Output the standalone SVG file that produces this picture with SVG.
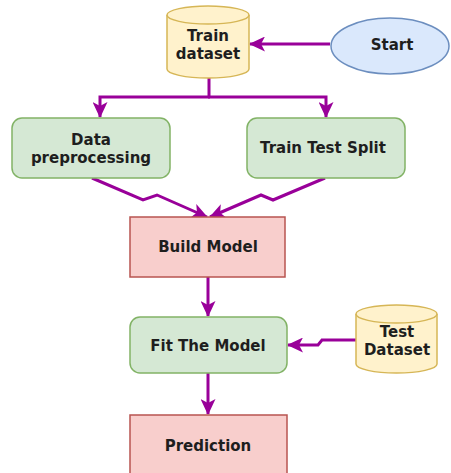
<svg xmlns="http://www.w3.org/2000/svg" width="451" height="473" viewBox="0 0 451 473">
  <style>
    .lbl { font-family: "DejaVu Sans", Verdana, sans-serif; font-weight: bold; font-size: 15px; fill: #1e1e1e; text-anchor: middle; dominant-baseline: central; }
    .green { fill: #d5e8d4; stroke: #82b366; stroke-width: 1.5; }
    .red { fill: #f8cecc; stroke: #b85450; stroke-width: 1.5; }
    .yellow { fill: #fff2cc; stroke: #d6b656; stroke-width: 1.5; }
    .blue { fill: #dae8fc; stroke: #6c8ebf; stroke-width: 1.5; }
    .edge { fill: none; stroke: #990099; stroke-width: 3; stroke-linejoin: miter; }
    .arrow { marker-end: url(#head); }
  </style>
  <defs>
    <marker id="head" markerUnits="userSpaceOnUse" markerWidth="17" markerHeight="15" refX="15" refY="7.5" orient="auto">
      <path d="M0,0 L16,7.5 L0,15 L4,7.5 Z" fill="#990099"/>
    </marker>
  </defs>

  <rect width="451" height="473" fill="#ffffff"/>

  <g id="connectors">
    <path class="edge arrow" d="M330,44 L250,44"/>
    <path class="edge" d="M209,78 L209,97"/>
    <path class="edge arrow" d="M210,97 L100,97 L100,117"/>
    <path class="edge arrow" d="M208,97 L326,97 L326,117"/>
    <path class="edge arrow" d="M92,178 L143,200 L157,195 L207,217"/>
    <path class="edge arrow" d="M325,178 L273,200 L261,195 L210,217"/>
    <path class="edge arrow" d="M208,277 L208,316"/>
    <path class="edge arrow" d="M208,373 L208,414"/>
    <path class="edge arrow" d="M356,340 L322,340 L318,345 L288,345"/>
  </g>

  <g id="train-dataset">
    <path class="yellow" d="M167,15 a41,9 0 0 1 82,0 v54 a41,9 0 0 1 -82,0 z"/>
    <path class="yellow" d="M167,15 a41,9 0 0 0 82,0" fill="none"/>
    <text class="lbl" x="208" y="36">Train</text>
    <text class="lbl" x="208" y="54">dataset</text>
  </g>

  <g id="start">
    <ellipse class="blue" cx="390" cy="46" rx="59" ry="28"/>
    <text class="lbl" x="392" y="45">Start</text>
  </g>

  <g id="data-preprocessing">
    <rect class="green" x="12" y="118" width="158" height="60" rx="10"/>
    <text class="lbl" x="91" y="140">Data</text>
    <text class="lbl" x="91" y="158">preprocessing</text>
  </g>

  <g id="train-test-split">
    <rect class="green" x="247" y="118" width="158" height="60" rx="10"/>
    <text class="lbl" x="323" y="148">Train Test Split</text>
  </g>

  <g id="build-model">
    <rect class="red" x="130" y="217" width="155" height="60"/>
    <text class="lbl" x="208" y="247">Build Model</text>
  </g>

  <g id="fit-model">
    <rect class="green" x="130" y="317" width="157" height="56" rx="10"/>
    <text class="lbl" x="208" y="346">Fit The Model</text>
  </g>

  <g id="test-dataset">
    <path class="yellow" d="M356,314 a40.5,9 0 0 1 81,0 v50 a40.5,9 0 0 1 -81,0 z"/>
    <path class="yellow" d="M356,314 a40.5,9 0 0 0 81,0" fill="none"/>
    <text class="lbl" x="397" y="332">Test</text>
    <text class="lbl" x="397" y="350">Dataset</text>
  </g>

  <g id="prediction">
    <rect class="red" x="130" y="415" width="157" height="60"/>
    <text class="lbl" x="208" y="446">Prediction</text>
  </g>
</svg>
